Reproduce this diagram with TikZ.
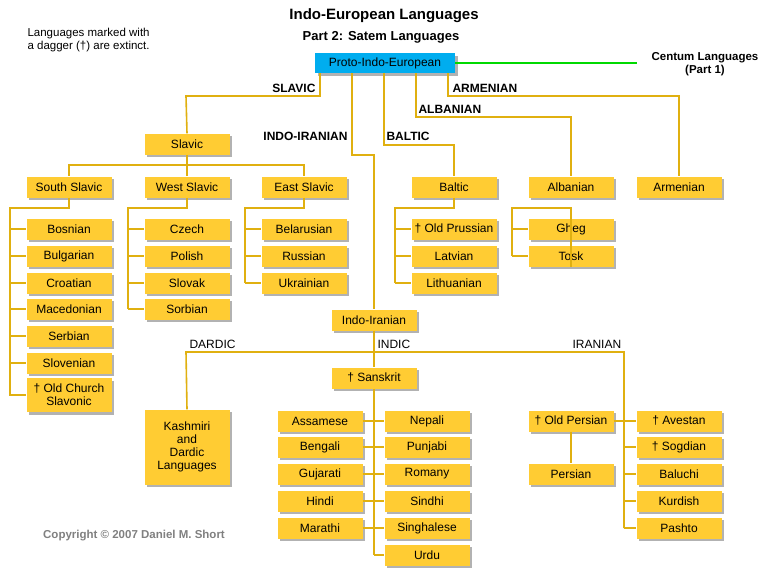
\documentclass[tikz,border=0pt]{standalone}
\usepackage{fontspec}
\setmainfont{Liberation Sans}
\usetikzlibrary{shadows}
\definecolor{boxc}{HTML}{FFCC33}
\definecolor{linec}{HTML}{E0B010}
\begin{document}
\begin{tikzpicture}[x=1pt,y=-1pt,
 lang/.style={fill=boxc,minimum width=85pt,minimum height=21pt,inner sep=1pt,font=\fontsize{12}{13}\selectfont,align=center,drop shadow={shadow xshift=2.5pt,shadow yshift=-2.5pt,fill=gray!60,opacity=1}},
 ln/.style={draw=linec,line width=1.6pt},
 br/.style={font=\bfseries\fontsize{12}{13}\selectfont},
 sb/.style={font=\fontsize{12}{13}\selectfont}]
\useasboundingbox (0,0) rectangle (768,576);
\node[font=\bfseries\fontsize{15}{17}\selectfont] (t1) at (384,16) {Indo-European Languages};
\node[font=\bfseries\fontsize{13}{15}\selectfont] (t2) at (381,37) {Part 2: Satem Languages};
\node[sb,anchor=west,align=left,font=\fontsize{11.5}{12.5}\selectfont] (note) at (24,40) {Languages marked with\\a dagger (†) are extinct.};
\node[font=\bfseries\fontsize{11.5}{12.5}\selectfont,align=center] (cent) at (705,64) {Centum Languages\\(Part 1)};
\node[lang,fill=cyan,minimum width=140pt,minimum height=20pt] (pie) at (385,63) {Proto-Indo-European};
\draw[draw=green!85!black,line width=1.6pt] (pie.east) -- (637,63);
% level 1
\node[lang] (slavic) at (187,144) {Slavic};
\node[lang] (ss) at (69,187) {South Slavic};
\node[lang] (ws) at (187,187) {West Slavic};
\node[lang] (es) at (304,187) {East Slavic};
\node[lang] (baltic) at (454,187) {Baltic};
\node[lang] (alb) at (571,187) {Albanian};
\node[lang] (arm) at (679,187) {Armenian};
\node[lang] (ii) at (374,320) {Indo-Iranian};
\draw[ln] (320,73) -- (320,96) -- (186,96) -- (slavic.north);
\draw[ln] (352,73) -- (352,155) -- (374,155) -- (ii.north);
\draw[ln] (384,73) -- (384,145) -- (454,145) -- (baltic.north);
\draw[ln] (416,73) -- (416,117) -- (571,117) -- (alb.north);
\draw[ln] (448,73) -- (448,96) -- (679,96) -- (arm.north);
\node[br,anchor=east] (lsl) at (319,88) {SLAVIC};
\node[br,anchor=west] (larm) at (449,88) {ARMENIAN};
\node[br,anchor=west] (lalb) at (415,109) {ALBANIAN};
\node[br,anchor=east] (lii) at (351,136) {INDO-IRANIAN};
\node[br,anchor=west] (lbal) at (383,136) {BALTIC};
\draw[ln] (slavic.south) -- (187,165);
\draw[ln] (69,176) -- (69,165) -- (304,165) -- (304,176);
\draw[ln] (187,165) -- (ws.north);
% lists
\foreach \n/\t/\y in {a/Bosnian/229,b/Bulgarian/256,c/Croatian/283,d/Macedonian/309,e/Serbian/336,f/Slovenian/363}
 {\node[lang] (ss\n) at (69,\y) {\t}; \draw[ln] (10,\y) -- (ss\n.west);}
\node[lang,minimum height=34pt] (ssg) at (69,395) {† Old Church\\Slavonic};
\draw[ln] (ss.south) -- (69,208) -- (10,208) -- (10,395) -- (ssg.west);
\foreach \n/\t/\y in {a/Czech/229,b/Polish/256,c/Slovak/283,d/Sorbian/309}
 {\node[lang] (ws\n) at (187,\y) {\t}; \draw[ln] (128,\y) -- (ws\n.west);}
\draw[ln] (ws.south) -- (187,208) -- (128,208) -- (128,309);
\foreach \n/\t/\y in {a/Belarusian/229,b/Russian/256,c/Ukrainian/283}
 {\node[lang] (es\n) at (304,\y) {\t}; \draw[ln] (245,\y) -- (es\n.west);}
\draw[ln] (es.south) -- (304,208) -- (245,208) -- (245,283);
\foreach \n/\t/\y in {a/† Old Prussian/229,b/Latvian/256,c/Lithuanian/283}
 {\node[lang] (ba\n) at (454,\y) {\t}; \draw[ln] (395,\y) -- (ba\n.west);}
\draw[ln] (baltic.south) -- (454,208) -- (395,208) -- (395,283);
\foreach \n/\t/\y in {a/Gheg/229,b/Tosk/256}
 {\node[lang] (al\n) at (571,\y) {\t}; \draw[ln] (512,\y) -- (al\n.west);}
\draw[ln] (alb.south) -- (571,208) -- (512,208) -- (512,256);
% Indo-Iranian
\node[lang] (sans) at (374,378) {† Sanskrit};
\node[lang,minimum height=75pt] (kash) at (187,447) {Kashmiri\\and\\Dardic\\Languages};
\draw[ln] (ii.south) -- (sans.north);
\draw[ln] (kash.north) -- (186,352) -- (624,352) -- (624,528);
\node[sb,anchor=west] (ld) at (186,344) {DARDIC};
\node[sb,anchor=west] (li) at (374,344) {INDIC};
\node[sb,anchor=west] (lir) at (569,344) {IRANIAN};
\draw[ln] (sans.south) -- (374,555);
\foreach \n/\l/\r/\y in {a/Assamese/Nepali/421,b/Bengali/Punjabi/447,c/Gujarati/Romany/474,d/Hindi/Sindhi/501,e/Marathi/Singhalese/528}
 {\node[lang] (il\n) at (320,\y) {\l}; \node[lang] (ir\n) at (427,\y) {\r}; \draw[ln] (il\n.east) -- (ir\n.west);}
\node[lang] (urdu) at (427,555) {Urdu};
\draw[ln] (374,555) -- (urdu.west);
\foreach \n/\t/\y in {a/† Avestan/421,b/† Sogdian/447,c/Baluchi/474,d/Kurdish/501,e/Pashto/528}
 {\node[lang] (ia\n) at (679,\y) {\t}; \draw[ln] (624,\y) -- (ia\n.west);}
\node[lang] (op) at (571,421) {† Old Persian};
\node[lang] (pers) at (571,474) {Persian};
\draw[ln] (op.east) -- (624,421);
\draw[ln] (op.south) -- (pers.north);
\node[font=\bfseries\fontsize{11.5}{12.5}\selectfont,text=gray] (copy) at (134,536) {Copyright © 2007 Daniel M. Short};
\end{tikzpicture}
\end{document}
